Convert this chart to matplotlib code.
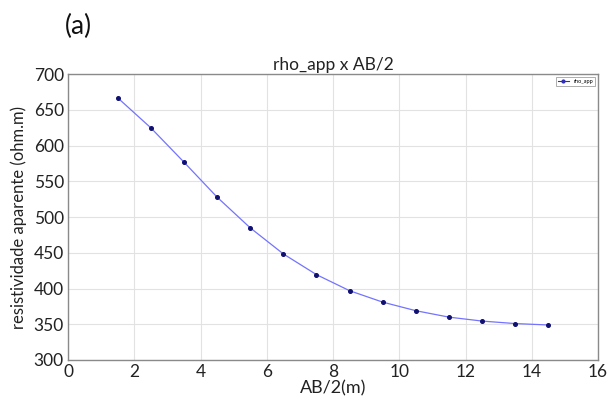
import matplotlib
matplotlib.use("Agg")
import matplotlib.pyplot as plt

# Apparent resistivity sounding curve
ab2 = [1.5, 2.5, 3.5, 4.5, 5.5, 6.5, 7.5, 8.5, 9.5, 10.5, 11.5, 12.5, 13.5, 14.5]
rho_app = [667, 625, 577, 528, 485, 448.5, 419.5, 397, 381, 369, 360, 354.5, 351, 349]

x_ticks = [0, 2, 4, 6, 8, 10, 12, 14, 16]
y_ticks = [300, 350, 400, 450, 500, 550, 600, 650, 700]

plt.rcParams['font.family'] = ['Lato', 'DejaVu Sans']

fig = plt.figure(figsize=(6.09, 4.03), dpi=100)
ax = fig.add_axes([0.1117, 0.1067, 0.8703, 0.709])

ax.plot(ab2, rho_app, color='#7373ff', lw=0.9, zorder=2)
ax.plot(ab2, rho_app, ls='none', marker='o', ms=2.6, color='#101070',
        zorder=3)
# legend handle: line with markers
ax.plot([], [], color='#3030b0', lw=0.8, marker='o', ms=2, label='rho_app')

ax.set_xlim(0, 16)
ax.set_ylim(300, 700)
ax.set_xticks(x_ticks)
ax.set_yticks(y_ticks)
ax.grid(True, color='#e2e2e2', lw=0.8)
ax.set_axisbelow(True)
ax.tick_params(length=0, labelsize=12.5, pad=3, colors='#222222')
for s in ax.spines.values():
    s.set_color('#8a8a8a')
    s.set_linewidth(1.0)

ax.set_title('rho_app x AB/2', fontsize=12.5, pad=3, color='#222222')
ax.set_xlabel('AB/2(m)', fontsize=13, labelpad=0, color='#222222')
ax.set_ylabel('resistividade aparente (ohm.m)', fontsize=12, labelpad=5,
              color='#222222')

leg = ax.legend(loc='upper right', fontsize=4, frameon=True, fancybox=False,
                borderpad=0.4, handlelength=2, borderaxespad=0.5)
leg.get_frame().set_edgecolor('#888888')
leg.get_frame().set_linewidth(0.6)

fig.text(0.107, 0.935, '(a)', fontsize=19, color='#111111', va='center')

fig.savefig('out.png', dpi=100)
